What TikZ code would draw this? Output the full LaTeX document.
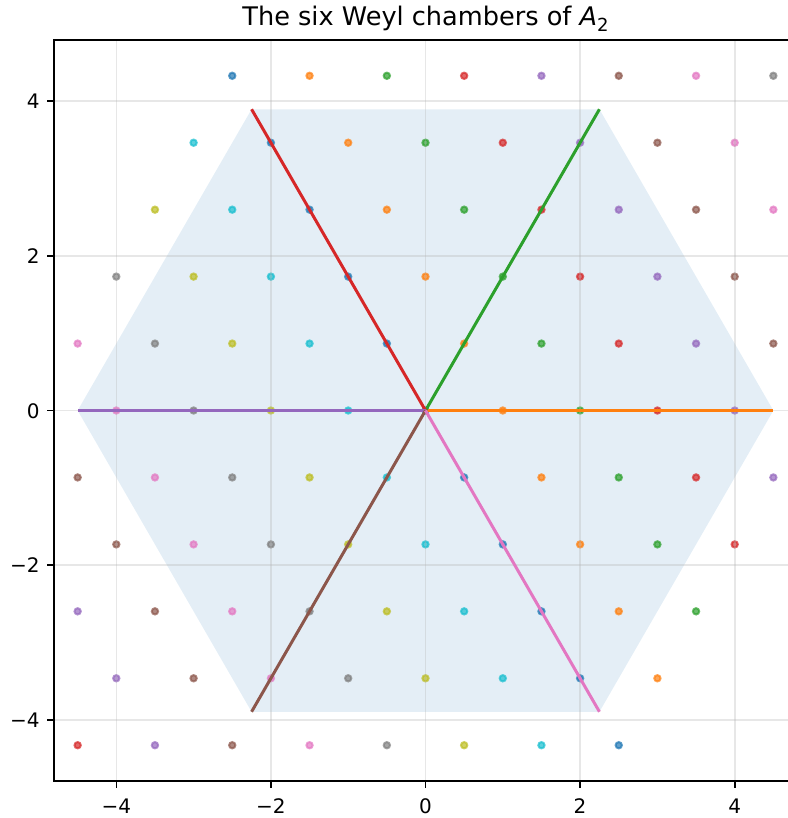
\documentclass[tikz,border=0pt]{standalone}
\usepackage{fontspec}
\setmainfont{DejaVu Sans}
\definecolor{c0}{HTML}{1F77B4}
\definecolor{c1}{HTML}{FF7F0E}
\definecolor{c2}{HTML}{2CA02C}
\definecolor{c3}{HTML}{D62728}
\definecolor{c4}{HTML}{9467BD}
\definecolor{c5}{HTML}{8C564B}
\definecolor{c6}{HTML}{E377C2}
\definecolor{c7}{HTML}{7F7F7F}
\definecolor{c8}{HTML}{BCBD22}
\definecolor{c9}{HTML}{17BECF}
\definecolor{gridgray}{HTML}{B0B0B0}
\begin{document}
\begin{tikzpicture}[x=0.5pt,y=-0.5pt,
  spine/.style={black, line width=0.8pt, line cap=rect},
  tickmark/.style={black, line width=0.8pt},
  gridline/.style={draw=gridgray, draw opacity=0.3, line width=0.8pt},
  chamberline/.style={line width=1.5pt},
  dot/.style={line width=1pt, fill opacity=0.7, draw opacity=0.7},
  ticklabel/.style={font=\fontsize{10}{12}\selectfont, inner sep=0pt},
  titlestyle/.style={font=\fontsize{12.8}{15}\selectfont, inner sep=0pt}]
\useasboundingbox (0,0) rectangle (787,818);
\begin{scope}
  \clip (54,40) rectangle (797,781);
  \begin{scope}[shift={(425.5,410.5)}, x=38.65pt, y=38.65pt]
    \coordinate (O) at (0,0);
    \coordinate (v1) at (4.5,0);
    \coordinate (v2) at (2.25,3.8971);
    \coordinate (v3) at (-2.25,3.8971);
    \coordinate (v4) at (-4.5,0);
    \coordinate (v5) at (-2.25,-3.8971);
    \coordinate (v6) at (2.25,-3.8971);
    \fill[c0, fill opacity=0.12] (v1) -- (v2) -- (v3) -- (v4) -- (v5) -- (v6) -- cycle;
    \foreach \i in {-5,...,5} {
      \foreach \j in {-5,...,5} {
        \pgfmathtruncatemacro\k{mod(\i+\j+20,10)}
        \filldraw[dot, draw=c\k, fill=c\k] ({\i+0.5*\j},{0.8660254*\j}) circle[radius=1.58pt];
      }
    }
    \foreach \g in {-4,-2,0,2,4} {
      \draw[gridline] (\g,-6) -- (\g,6);
      \draw[gridline] (-6,\g) -- (6,\g);
    }
    \draw[chamberline, c1] (O) -- (v1);
    \draw[chamberline, c2] (O) -- (v2);
    \draw[chamberline, c3] (O) -- (v3);
    \draw[chamberline, c4] (O) -- (v4);
    \draw[chamberline, c5] (O) -- (v5);
    \draw[chamberline, c6] (O) -- (v6);
  \end{scope}
\end{scope}
% spines
\draw[spine] (797,40) -- (54,40) -- (54,781) -- (797,781);
% ticks and labels
\foreach \k/\lab in {-4/−4,-2/−2,0/0,2/2,4/4} {
  \draw[tickmark] ({425.5+77.3*\k},781) -- ({425.5+77.3*\k},788);
  \node[ticklabel, anchor=base] at ({425.5+77.3*\k},813) {\lab};
  \draw[tickmark] (54,{410.5-77.3*\k}) -- (47,{410.5-77.3*\k});
  \node[ticklabel, anchor=base east] at (40,{418-77.3*\k}) {\lab};
}
\node[titlestyle, anchor=base] (title) at (425.5,26) {The six Weyl chambers of \textit{A}\raisebox{-2.8pt}{\fontsize{9}{10}\selectfont 2}};
\end{tikzpicture}
\end{document}
